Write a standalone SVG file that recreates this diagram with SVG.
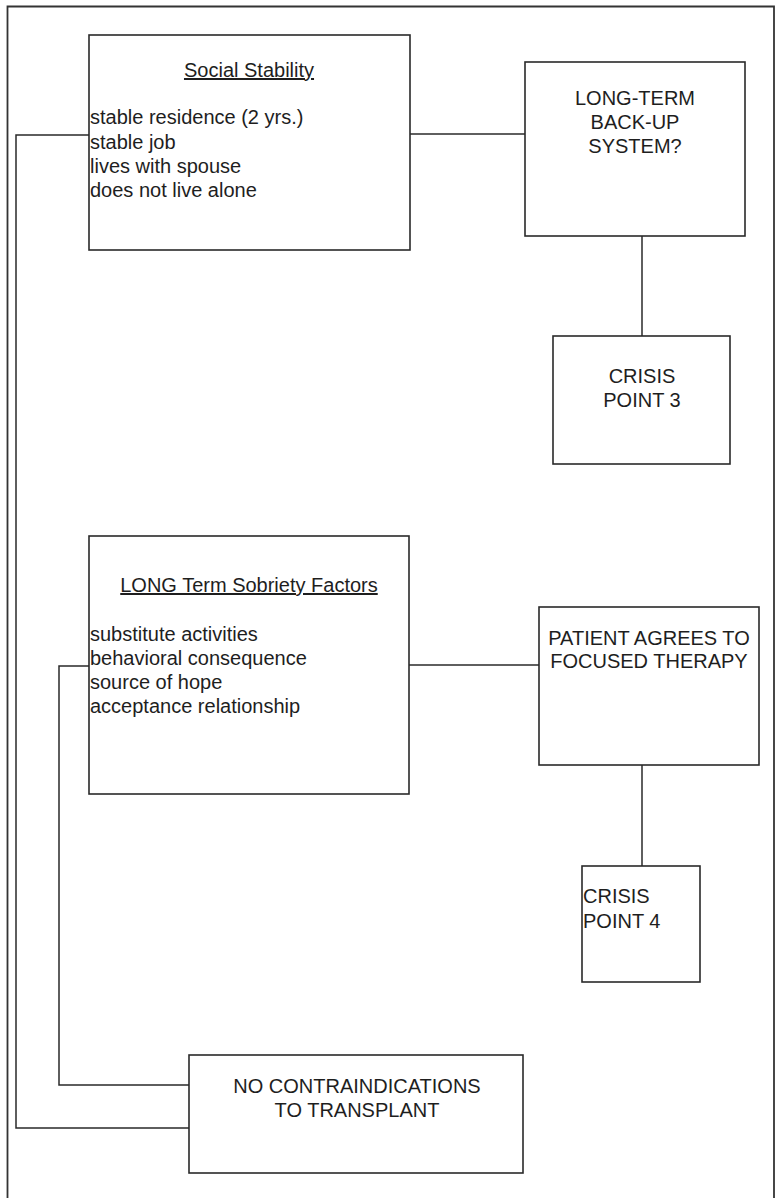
<svg xmlns="http://www.w3.org/2000/svg" width="776" height="1198" viewBox="0 0 776 1198">
  <style>
    .box { fill: #ffffff; stroke: #2a2a2a; stroke-width: 1.6; }
    .frame { fill: none; stroke: #333333; stroke-width: 1.8; }
    .wire { fill: none; stroke: #2a2a2a; stroke-width: 1.5; }
    text { font-family: "Liberation Sans", Arial, sans-serif; font-size: 20px; fill: #1e1e1e; }
    .mid { text-anchor: middle; }
    .title { text-decoration: underline; }
  </style>

  <rect width="776" height="1198" fill="#ffffff"/>
  <!-- page frame (open at the bottom) -->
  <path class="frame" d="M7.5,1200 V6.5 H774 V1200"/>

  <!-- connectors -->
  <g id="connectors">
    <line class="wire" x1="410" y1="134" x2="525" y2="134"/>
    <line class="wire" x1="642" y1="236" x2="642" y2="336"/>
    <line class="wire" x1="409" y1="665" x2="539" y2="665"/>
    <line class="wire" x1="642" y1="765" x2="642" y2="866"/>
    <polyline class="wire" points="89,135 16,135 16,1128 189,1128"/>
    <polyline class="wire" points="89,666 59,666 59,1085 189,1085"/>
  </g>

  <g id="social-stability">
    <rect class="box" x="89" y="35" width="321" height="215"/>
    <text class="mid title" x="249" y="77">Social Stability</text>
    <text x="90" y="124">stable residence (2 yrs.)</text>
    <text x="90" y="149">stable job</text>
    <text x="90" y="173">lives with spouse</text>
    <text x="90" y="197">does not live alone</text>
  </g>

  <g id="backup-system">
    <rect class="box" x="525" y="62" width="220" height="174"/>
    <text class="mid" x="635" y="105">LONG-TERM</text>
    <text class="mid" x="635" y="129">BACK-UP</text>
    <text class="mid" x="635" y="153">SYSTEM?</text>
  </g>

  <g id="crisis-point-3">
    <rect class="box" x="553" y="336" width="177" height="128"/>
    <text class="mid" x="642" y="383">CRISIS</text>
    <text class="mid" x="642" y="407">POINT 3</text>
  </g>

  <g id="sobriety-factors">
    <rect class="box" x="89" y="536" width="320" height="258"/>
    <text class="mid title" x="249" y="592">LONG Term Sobriety Factors</text>
    <text x="90" y="641">substitute activities</text>
    <text x="90" y="665">behavioral consequence</text>
    <text x="90" y="689">source of hope</text>
    <text x="90" y="713">acceptance relationship</text>
  </g>

  <g id="focused-therapy">
    <rect class="box" x="539" y="607" width="220" height="158"/>
    <text class="mid" x="649" y="645">PATIENT AGREES TO</text>
    <text class="mid" x="649" y="668">FOCUSED THERAPY</text>
  </g>

  <g id="crisis-point-4">
    <rect class="box" x="582" y="866" width="118" height="116"/>
    <text x="583" y="903">CRISIS</text>
    <text x="583" y="928">POINT 4</text>
  </g>

  <g id="no-contraindications">
    <rect class="box" x="189" y="1055" width="334" height="118"/>
    <text class="mid" x="357" y="1093">NO CONTRAINDICATIONS</text>
    <text class="mid" x="357" y="1117">TO TRANSPLANT</text>
  </g>
</svg>
